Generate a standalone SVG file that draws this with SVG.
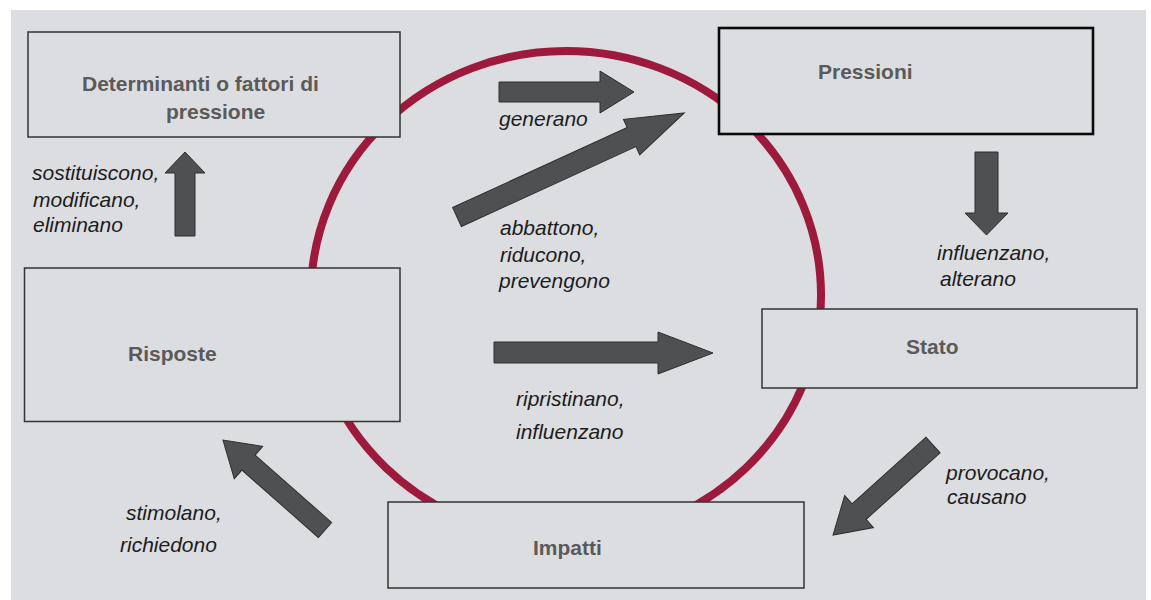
<svg xmlns="http://www.w3.org/2000/svg" width="1151" height="600" viewBox="0 0 1151 600">
<style>
.box{fill:#dcdde0;stroke:#333;stroke-width:1.5}
.boxb{fill:#dcdde0;stroke:#0a0a0a;stroke-width:2.6}
.t{font-family:"Liberation Sans",Arial,sans-serif;font-size:21px;font-weight:bold;fill:#5a5a5a}
.l{font-family:"Liberation Sans",Arial,sans-serif;font-size:21px;font-style:italic;fill:#1c1c1c}
.ar{fill:#4f5051;stroke:#2e2e2e;stroke-width:1}
</style>
<rect x="0" y="0" width="1151" height="600" fill="#ffffff"/>
<rect x="11" y="10" width="1135" height="590" fill="#dcdde0"/>
<ellipse cx="566" cy="295" rx="255" ry="244" fill="none" stroke="#9e1a3d" stroke-width="8"/>
<g id="determinanti">
<rect class="box" x="28" y="32" width="372" height="105"/>
<text class="t" x="82" y="91">Determinanti o fattori di</text>
<text class="t" x="166" y="119">pressione</text>
</g>
<g id="pressioni">
<rect class="boxb" x="719" y="28" width="374" height="106"/>
<text class="t" x="818" y="79">Pressioni</text>
</g>
<g id="risposte">
<rect class="box" x="24.5" y="268" width="375.5" height="153.5"/>
<text class="t" x="128" y="361">Risposte</text>
</g>
<g id="stato">
<rect class="box" x="762" y="309" width="375" height="79"/>
<text class="t" x="906" y="354">Stato</text>
</g>
<g id="impatti">
<rect class="box" x="388" y="502" width="416" height="86"/>
<text class="t" x="533" y="555">Impatti</text>
</g>
<g id="connectors">
<polygon class="ar" points="175,236 175,173 165,173 185,152 205,173 195,173 195,236"/>
<polygon class="ar" points="499,82 600,82 600,71 634,92 600,113 600,102 499,102"/>
<polygon class="ar" transform="translate(457,217) rotate(-24.6)" points="0,-10.5 192,-10.5 192,-19.5 250,0 192,19.5 192,10.5 0,10.5"/>
<polygon class="ar" points="975,152 998,152 998,213 1008,213 986.5,235 965,213 975,213"/>
<polygon class="ar" points="494,342 658,342 658,332 713,353 658,374 658,363 494,363"/>
<polygon class="ar" transform="translate(933,445) rotate(138)" points="0,-10.5 99.5,-10.5 99.5,-21.5 134.5,0 99.5,21.5 99.5,10.5 0,10.5"/>
<polygon class="ar" transform="translate(325,530) rotate(221.4)" points="0,-10 102,-10 102,-21.5 136,0 102,21.5 102,10 0,10"/>
</g>
<g id="labels">
<text class="l" x="32" y="180">sostituiscono,</text>
<text class="l" x="33" y="207">modificano,</text>
<text class="l" x="33" y="232">eliminano</text>
<text class="l" x="499" y="126">generano</text>
<text class="l" x="500" y="235">abbattono,</text>
<text class="l" x="500" y="262">riducono,</text>
<text class="l" x="499" y="288">prevengono</text>
<text class="l" x="937" y="260">influenzano,</text>
<text class="l" x="940" y="286">alterano</text>
<text class="l" x="516" y="406">ripristinano,</text>
<text class="l" x="516" y="439">influenzano</text>
<text class="l" x="946" y="480">provocano,</text>
<text class="l" x="947" y="504">causano</text>
<text class="l" x="126" y="520">stimolano,</text>
<text class="l" x="120" y="552">richiedono</text>
</g>
</svg>
